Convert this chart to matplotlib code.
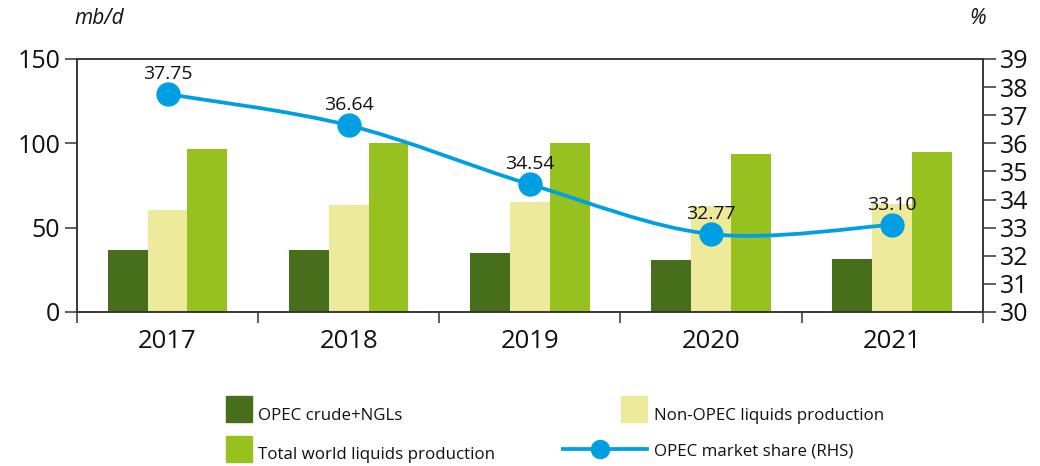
"""OPEC vs non-OPEC liquids production with OPEC market share (RHS)."""
import numpy as np
import matplotlib

matplotlib.use("Agg")
import matplotlib.pyplot as plt
from matplotlib.path import Path
from matplotlib.patches import PathPatch, Rectangle
from matplotlib.lines import Line2D

plt.rcParams["font.family"] = ["Open Sans", "DejaVu Sans"]

years = ["2017", "2018", "2019", "2020", "2021"]
opec_crude_ngl = [36.8, 36.8, 34.8, 30.8, 31.4]
non_opec_liquids = [60.5, 63.4, 65.2, 62.8, 64.0]
world_liquids = [96.6, 100.2, 100.2, 93.6, 94.8]
opec_share = [37.75, 36.64, 34.54, 32.77, 33.10]
share_labels = ["37.75", "36.64", "34.54", "32.77", "33.10"]

C_DARK = "#476E1A"
C_YELLOW = "#EEEA9B"
C_GREEN = "#96C11F"
C_LINE = "#009FE3"
C_AXIS = "#333333"
C_TEXT = "#111111"

fig = plt.figure(figsize=(10.4, 4.66), dpi=100)
ax = fig.add_axes([0.074, 0.3305, 0.871, 0.543])
ax2 = ax.twinx()

x = np.arange(len(years))
w = 0.22
ax.bar(x - w, opec_crude_ngl, w, color=C_DARK, zorder=2)
ax.bar(x, non_opec_liquids, w, color=C_YELLOW, zorder=2)
ax.bar(x + w, world_liquids, w, color=C_GREEN, zorder=2)

ax.set_xlim(-0.5, len(years) - 0.5)
ax.set_ylim(0, 150)
ax.set_yticks([0, 50, 100, 150])
ax.set_xticks(x)
ax.set_xticklabels(years, fontsize=18.5)
ax.set_xticks(np.arange(len(years) + 1) - 0.5, minor=True)
ax.tick_params(axis="x", which="major", length=0, pad=12, colors=C_TEXT)
ax.tick_params(axis="x", which="minor", length=8, width=1.1, color=C_AXIS, direction="out")
ax.tick_params(axis="y", length=9, width=1.1, color=C_AXIS, labelsize=18, pad=3, labelcolor=C_TEXT)

ax2.set_ylim(30, 39)
ax2.set_yticks(range(30, 40))
ax2.tick_params(axis="y", length=9, width=1.1, color=C_AXIS, labelsize=18, pad=3, labelcolor=C_TEXT)

for a in (ax, ax2):
    for s in a.spines.values():
        s.set_color(C_AXIS)
        s.set_linewidth(1.1)

# smoothed share line (Catmull-Rom style bezier through the points)
pts = np.column_stack([x, opec_share]).astype(float)
verts = [tuple(pts[0])]
codes = [Path.MOVETO]
for i in range(len(pts) - 1):
    p0 = pts[max(i - 1, 0)]
    p1 = pts[i]
    p2 = pts[i + 1]
    p3 = pts[min(i + 2, len(pts) - 1)]
    c1 = p1 + (p2 - p0) / 6
    c2 = p2 - (p3 - p1) / 6
    verts += [tuple(c1), tuple(c2), tuple(p2)]
    codes += [Path.CURVE4] * 3
ax2.add_patch(PathPatch(Path(verts, codes), facecolor="none", edgecolor=C_LINE, lw=2.7, zorder=3))
ax2.plot(x, opec_share, "o", color=C_LINE, ms=16.5, zorder=4)
for xi, yi, lab in zip(x, opec_share, share_labels):
    ax2.annotate(lab, (xi, yi), xytext=(0, 8), textcoords="offset points",
                 ha="center", va="bottom", fontsize=14, color=C_TEXT, zorder=5)

fig.text(0.072, 0.96, "mb/d", fontsize=15, style="italic", ha="left", va="center", color=C_TEXT)
fig.text(0.940, 0.96, "%", fontsize=15, style="italic", ha="center", va="center", color=C_TEXT)

# legend drawn by hand to match the two-column layout (pixel positions)
def swatch(x0, y_bottom, color):
    fig.add_artist(Rectangle((x0 / 1040, 1 - y_bottom / 466), 26 / 1040, 26 / 466,
                             transform=fig.transFigure, color=color))

swatch(226, 422, C_DARK)
swatch(226, 462, C_GREEN)
swatch(621, 422, C_YELLOW)
fig.add_artist(Line2D([563 / 1040, 647 / 1040], [1 - 449 / 466] * 2, transform=fig.transFigure,
                      color=C_LINE, lw=2.7))
fig.add_artist(Line2D([600 / 1040], [1 - 449 / 466], transform=fig.transFigure,
                      color=C_LINE, marker="o", ms=13))
legend_items = [(258, 416, "OPEC crude+NGLs"), (258, 455, "Total world liquids production"),
                (654, 416, "Non-OPEC liquids production"), (654, 451, "OPEC market share (RHS)")]
for lx, ly, txt in legend_items:
    fig.text(lx / 1040, 1 - ly / 466, txt, fontsize=12.2, ha="left", va="center", color=C_TEXT)

fig.savefig("out.png", dpi=100)
